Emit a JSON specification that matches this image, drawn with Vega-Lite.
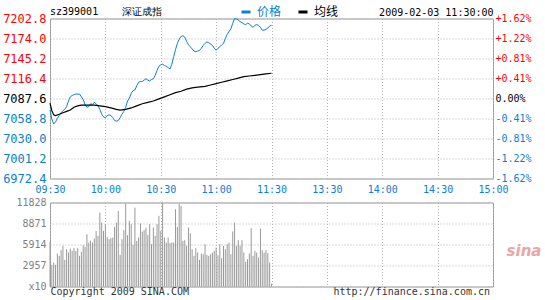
{
  "$schema": "https://vega.github.io/schema/vega-lite/v6.json",
  "padding": {"left": 2, "top": 5.5, "right": 0, "bottom": 0},
  "background": "white",
  "config": {
    "font": "DejaVu Sans Mono",
    "view": {"stroke": "#999999", "strokeWidth": 1},
    "axis": {"labelFont": "DejaVu Sans Mono", "labelFontSize": 10, "ticks": false, "domain": false, "gridColor": "#b4b4b4", "gridDash": [1, 2], "gridWidth": 1, "gridOpacity": 1, "title": null, "labelOverlap": false}
  },
  "datasets": {
    "price": [
      {"min":0,"series":"价格","price":7071},{"min":1,"series":"价格","price":7058},{"min":2,"series":"价格","price":7051},{"min":3,"series":"价格","price":7054},{"min":4,"series":"价格","price":7059},{"min":5,"series":"价格","price":7063},{"min":6,"series":"价格","price":7067},{"min":7,"series":"价格","price":7070},{"min":8,"series":"价格","price":7072},{"min":9,"series":"价格","price":7076},{"min":10,"series":"价格","price":7084},{"min":11,"series":"价格","price":7090},{"min":12,"series":"价格","price":7092},{"min":14,"series":"价格","price":7094},{"min":16,"series":"价格","price":7094},{"min":17,"series":"价格","price":7090},{"min":18,"series":"价格","price":7086},{"min":19,"series":"价格","price":7079},{"min":20,"series":"价格","price":7075},{"min":21,"series":"价格","price":7076},{"min":22,"series":"价格","price":7080},{"min":23,"series":"价格","price":7079},{"min":24,"series":"价格","price":7082},{"min":25,"series":"价格","price":7080},{"min":26,"series":"价格","price":7077},{"min":27,"series":"价格","price":7072},{"min":28,"series":"价格","price":7065},{"min":29,"series":"价格","price":7061},{"min":30,"series":"价格","price":7060},{"min":31,"series":"价格","price":7063},{"min":32,"series":"价格","price":7064},{"min":33,"series":"价格","price":7063},{"min":34,"series":"价格","price":7060},{"min":35,"series":"价格","price":7056},{"min":36,"series":"价格","price":7055},{"min":37,"series":"价格","price":7056},{"min":38,"series":"价格","price":7060},{"min":39,"series":"价格","price":7065},{"min":40,"series":"价格","price":7069},{"min":41,"series":"价格","price":7075},{"min":42,"series":"价格","price":7084},{"min":43,"series":"价格","price":7088},{"min":44,"series":"价格","price":7095},{"min":45,"series":"价格","price":7099},{"min":46,"series":"价格","price":7100},{"min":47,"series":"价格","price":7106},{"min":48,"series":"价格","price":7111},{"min":49,"series":"价格","price":7112},{"min":50,"series":"价格","price":7112},{"min":51,"series":"价格","price":7114},{"min":52,"series":"价格","price":7116},{"min":53,"series":"价格","price":7114},{"min":54,"series":"价格","price":7113},{"min":55,"series":"价格","price":7115},{"min":56,"series":"价格","price":7116},{"min":57,"series":"价格","price":7121},{"min":58,"series":"价格","price":7128},{"min":59,"series":"价格","price":7134},{"min":60,"series":"价格","price":7136},{"min":61,"series":"价格","price":7137},{"min":62,"series":"价格","price":7135},{"min":63,"series":"价格","price":7134},{"min":64,"series":"价格","price":7132},{"min":65,"series":"价格","price":7130},{"min":66,"series":"价格","price":7137},{"min":67,"series":"价格","price":7148},{"min":68,"series":"价格","price":7158},{"min":69,"series":"价格","price":7167},{"min":70,"series":"价格","price":7173},{"min":71,"series":"价格","price":7177},{"min":72,"series":"价格","price":7178},{"min":73,"series":"价格","price":7176},{"min":74,"series":"价格","price":7170},{"min":75,"series":"价格","price":7165},{"min":76,"series":"价格","price":7162},{"min":77,"series":"价格","price":7159},{"min":78,"series":"价格","price":7156},{"min":79,"series":"价格","price":7155},{"min":80,"series":"价格","price":7156},{"min":81,"series":"价格","price":7157},{"min":82,"series":"价格","price":7160},{"min":83,"series":"价格","price":7164},{"min":84,"series":"价格","price":7167},{"min":85,"series":"价格","price":7169},{"min":86,"series":"价格","price":7168},{"min":87,"series":"价格","price":7166},{"min":88,"series":"价格","price":7164},{"min":89,"series":"价格","price":7160},{"min":90,"series":"价格","price":7157},{"min":91,"series":"价格","price":7160},{"min":92,"series":"价格","price":7162},{"min":93,"series":"价格","price":7165},{"min":94,"series":"价格","price":7167},{"min":95,"series":"价格","price":7174},{"min":96,"series":"价格","price":7180},{"min":97,"series":"价格","price":7184},{"min":98,"series":"价格","price":7188},{"min":99,"series":"价格","price":7196},{"min":100,"series":"价格","price":7202.8},{"min":101,"series":"价格","price":7202},{"min":102,"series":"价格","price":7201},{"min":103,"series":"价格","price":7198},{"min":104,"series":"价格","price":7197},{"min":105,"series":"价格","price":7195},{"min":106,"series":"价格","price":7194},{"min":107,"series":"价格","price":7196},{"min":108,"series":"价格","price":7195},{"min":109,"series":"价格","price":7192},{"min":110,"series":"价格","price":7190},{"min":111,"series":"价格","price":7193},{"min":112,"series":"价格","price":7194},{"min":113,"series":"价格","price":7193},{"min":114,"series":"价格","price":7190},{"min":115,"series":"价格","price":7186},{"min":116,"series":"价格","price":7186},{"min":117,"series":"价格","price":7187},{"min":118,"series":"价格","price":7189},{"min":119,"series":"价格","price":7192},{"min":120,"series":"价格","price":7193},
      {"min":0,"series":"均线","price":7081},{"min":1,"series":"均线","price":7070},{"min":2,"series":"均线","price":7064},{"min":3,"series":"均线","price":7063},{"min":5,"series":"均线","price":7065},{"min":7,"series":"均线","price":7067},{"min":9,"series":"均线","price":7069},{"min":11,"series":"均线","price":7071},{"min":13,"series":"均线","price":7075},{"min":15,"series":"均线","price":7077},{"min":17,"series":"均线","price":7078},{"min":20,"series":"均线","price":7078},{"min":24,"series":"均线","price":7078},{"min":27,"series":"均线","price":7077},{"min":30,"series":"均线","price":7076},{"min":33,"series":"均线","price":7074},{"min":36,"series":"均线","price":7072},{"min":38,"series":"均线","price":7071},{"min":41,"series":"均线","price":7072},{"min":44,"series":"均线","price":7074},{"min":47,"series":"均线","price":7077},{"min":50,"series":"均线","price":7080},{"min":53,"series":"均线","price":7082},{"min":56,"series":"均线","price":7084},{"min":59,"series":"均线","price":7087},{"min":62,"series":"均线","price":7090},{"min":65,"series":"均线","price":7093},{"min":68,"series":"均线","price":7096},{"min":71,"series":"均线","price":7098},{"min":74,"series":"均线","price":7101},{"min":77,"series":"均线","price":7103},{"min":80,"series":"均线","price":7104},{"min":84,"series":"均线","price":7105},{"min":87,"series":"均线","price":7107},{"min":90,"series":"均线","price":7109},{"min":93,"series":"均线","price":7111},{"min":96,"series":"均线","price":7113},{"min":99,"series":"均线","price":7115},{"min":102,"series":"均线","price":7117},{"min":105,"series":"均线","price":7119},{"min":108,"series":"均线","price":7120},{"min":111,"series":"均线","price":7121},{"min":114,"series":"均线","price":7122},{"min":117,"series":"均线","price":7123},{"min":120,"series":"均线","price":7124}
    ],
    "vol": [
      {"min":0,"vol":6285},{"min":1,"vol":3049},{"min":2,"vol":3377},{"min":3,"vol":3049},{"min":4,"vol":4643},{"min":5,"vol":4315},{"min":6,"vol":5112},{"min":7,"vol":5722},{"min":8,"vol":3752},{"min":9,"vol":5253},{"min":10,"vol":4784},{"min":11,"vol":5347},{"min":12,"vol":5018},{"min":13,"vol":5394},{"min":14,"vol":5018},{"min":15,"vol":5394},{"min":16,"vol":4315},{"min":17,"vol":4878},{"min":18,"vol":5816},{"min":19,"vol":5581},{"min":20,"vol":7363},{"min":21,"vol":6191},{"min":22,"vol":6425},{"min":23,"vol":6191},{"min":24,"vol":6754},{"min":25,"vol":7832},{"min":26,"vol":7129},{"min":27,"vol":10412},{"min":28,"vol":9005},{"min":29,"vol":7832},{"min":30,"vol":8770},{"min":31,"vol":6988},{"min":32,"vol":6660},{"min":33,"vol":6801},{"min":34,"vol":6894},{"min":35,"vol":8395},{"min":36,"vol":9005},{"min":37,"vol":10646},{"min":38,"vol":4456},{"min":39,"vol":6660},{"min":40,"vol":7926},{"min":41,"vol":11678},{"min":42,"vol":7223},{"min":43,"vol":9239},{"min":44,"vol":8770},{"min":45,"vol":5863},{"min":46,"vol":11115},{"min":47,"vol":6425},{"min":48,"vol":6894},{"min":49,"vol":8864},{"min":50,"vol":7739},{"min":51,"vol":7926},{"min":52,"vol":8301},{"min":53,"vol":7270},{"min":54,"vol":8770},{"min":55,"vol":5956},{"min":56,"vol":8301},{"min":57,"vol":7129},{"min":58,"vol":8770},{"min":59,"vol":9943},{"min":60,"vol":7832},{"min":61,"vol":11800},{"min":62,"vol":6894},{"min":63,"vol":6191},{"min":64,"vol":6894},{"min":65,"vol":6097},{"min":66,"vol":6191},{"min":67,"vol":6191},{"min":68,"vol":10881},{"min":69,"vol":8395},{"min":70,"vol":11678},{"min":71,"vol":11350},{"min":72,"vol":6425},{"min":73,"vol":6519},{"min":74,"vol":5722},{"min":75,"vol":8301},{"min":76,"vol":7504},{"min":77,"vol":5253},{"min":78,"vol":4315},{"min":79,"vol":5394},{"min":80,"vol":4784},{"min":81,"vol":3752},{"min":82,"vol":4643},{"min":83,"vol":4549},{"min":84,"vol":5956},{"min":85,"vol":4456},{"min":86,"vol":4315},{"min":87,"vol":4549},{"min":88,"vol":4784},{"min":89,"vol":5018},{"min":90,"vol":5487},{"min":91,"vol":4409},{"min":92,"vol":5956},{"min":93,"vol":3987},{"min":94,"vol":5722},{"min":95,"vol":5253},{"min":96,"vol":5956},{"min":97,"vol":6191},{"min":98,"vol":4549},{"min":99,"vol":7739},{"min":100,"vol":9005},{"min":101,"vol":5722},{"min":102,"vol":6519},{"min":103,"vol":5722},{"min":104,"vol":6519},{"min":105,"vol":4784},{"min":106,"vol":3471},{"min":107,"vol":3846},{"min":108,"vol":4643},{"min":109,"vol":8208},{"min":110,"vol":4315},{"min":111,"vol":5018},{"min":112,"vol":4784},{"min":113,"vol":4080},{"min":114,"vol":8161},{"min":115,"vol":5112},{"min":116,"vol":4784},{"min":117,"vol":5112},{"min":118,"vol":4690},{"min":119,"vol":3377},{"min":120,"vol":400}
    ],
    "logo": [{"label": "sina"}]
  },
  "bounds": "flush",
  "spacing": 24,
  "vconcat": [
    {
      "width": 443,
      "height": 160,
      "title": {"text": "sz399001\u00a0\u00a0\u00a0\u00a0深证成指", "anchor": "start", "frame": "group", "font": "DejaVu Sans Mono", "fontSize": 10, "fontWeight": "normal", "color": "#000000", "baseline": "alphabetic", "offset": -17.5},
      "data": {"name": "price"},
      "layer": [
        {
          "transform": [{"filter": "datum.series == '价格'"}],
          "mark": {"type": "line", "strokeWidth": 1},
          "encoding": {
            "x": {"field": "min", "type": "quantitative", "scale": {"domain": [0, 240], "nice": false, "zero": false},
              "axis": {"orient": "bottom", "values": [0, 30, 60, 90, 120, 150, 180, 210, 240], "labelExpr": "['09:30','10:00','10:30','11:00','11:30','13:30','14:00','14:30','15:00'][round(datum.value/30)]", "labelColor": "#0a80d0", "labelPadding": 6, "grid": true, "labelFlush": false}},
            "y": {"field": "price", "type": "quantitative", "scale": {"domain": [6972.4, 7202.8], "nice": false, "zero": false},
              "axis": {"orient": "left", "values": [6972.4, 7001.2, 7030, 7058.8, 7087.6, 7116.4, 7145.2, 7174, 7202.8], "format": ".1f", "labelFontSize": 12, "labelPadding": 4, "grid": true,
                "labelColor": {"condition": [{"test": "datum.value > 7087.7", "value": "#ff0000"}, {"test": "datum.value > 7087.5", "value": "#000000"}], "value": "#0a80d0"}}},
            "color": {"field": "series", "type": "nominal", "scale": {"domain": ["价格", "均线"], "range": ["#0a80d0", "#000000"]},
              "legend": {"orient": "none", "direction": "horizontal", "legendX": 190, "legendY": -12.5, "title": null, "symbolType": "stroke", "symbolStrokeWidth": 3, "symbolSize": 81, "labelFont": "Noto Sans CJK SC", "labelFontSize": 12, "labelOffset": 5, "columnPadding": 10,
                "encode": {"labels": {"update": {"fill": {"scale": "color", "field": "value"}}}}}}
          }
        },
        {
          "transform": [{"filter": "datum.series == '均线'"}],
          "mark": {"type": "line", "strokeWidth": 1.2},
          "encoding": {
            "x": {"field": "min", "type": "quantitative", "scale": {"domain": [0, 240], "nice": false, "zero": false},
              "axis": {"orient": "top", "labels": false, "grid": false, "title": "2009-02-03 11:30:00", "titleAnchor": "end", "titleAlign": "right", "titleFont": "DejaVu Sans Mono", "titleFontSize": 10, "titleFontWeight": "normal", "titleColor": "#000000", "titlePadding": 1}},
            "y": {"field": "price", "type": "quantitative", "scale": {"domain": [6972.4, 7202.8], "nice": false, "zero": false},
              "axis": {"orient": "right", "values": [6972.4, 7001.2, 7030, 7058.8, 7087.6, 7116.4, 7145.2, 7174, 7202.8], "labelExpr": "['-1.62%','-1.22%','-0.81%','-0.41%','0.00%','+0.41%','+0.81%','+1.22%','+1.62%'][round((datum.value-6972.4)/28.8)]", "labelFontSize": 10, "labelPadding": 2, "grid": false,
                "labelColor": {"condition": [{"test": "datum.value > 7087.7", "value": "#ff0000"}, {"test": "datum.value > 7087.5", "value": "#000000"}], "value": "#0a80d0"}}},
            "color": {"field": "series", "type": "nominal"}
          }
        }
      ],
      "resolve": {"scale": {"y": "independent", "x": "independent"}}
    },
    {
      "width": 443,
      "height": 84,
      "layer": [
        {
          "data": {"name": "vol"},
          "mark": {"type": "rule", "color": "#999999", "strokeWidth": 1},
          "encoding": {
            "x": {"field": "min", "type": "quantitative", "scale": {"domain": [0, 240], "nice": false, "zero": false},
              "axis": {"values": [0, 30, 60, 90, 120, 150, 180, 210, 240], "labels": false, "grid": true, "title": "Copyright 2009 SINA.COM\u00a0\u00a0\u00a0\u00a0\u00a0\u00a0\u00a0\u00a0\u00a0\u00a0\u00a0\u00a0\u00a0\u00a0\u00a0\u00a0\u00a0\u00a0\u00a0\u00a0\u00a0\u00a0\u00a0\u00a0http://finance.sina.com.cn", "titleAnchor": "start", "titleAlign": "left", "titleFont": "DejaVu Sans Mono", "titleFontSize": 10, "titleFontWeight": "normal", "titleColor": "#333333", "titlePadding": 0}},
            "y": {"field": "vol", "type": "quantitative", "scale": {"domain": [0, 11828], "nice": false, "zero": true},
              "axis": {"values": [0, 2957, 5914, 8871, 11828], "labelExpr": "datum.value == 0 ? 'x10' : datum.label", "format": "d", "labelColor": "#808080", "labelPadding": 4, "grid": true, "labelOverlap": false}},
            "y2": {"datum": 0}
          }
        },
        {
          "data": {"name": "logo"},
          "mark": {"type": "text", "font": "DejaVu Sans", "fontStyle": "italic", "fontWeight": "bold", "fontSize": 15, "color": "#eaa6a6", "align": "center", "baseline": "middle"},
          "encoding": {
            "x": {"datum": 256.8, "type": "quantitative", "scale": {"domain": [0, 240], "nice": false, "zero": false},
              "axis": {"values": [0, 30, 60, 90, 120, 150, 180, 210, 240], "labels": false, "grid": true, "title": "Copyright 2009 SINA.COM\u00a0\u00a0\u00a0\u00a0\u00a0\u00a0\u00a0\u00a0\u00a0\u00a0\u00a0\u00a0\u00a0\u00a0\u00a0\u00a0\u00a0\u00a0\u00a0\u00a0\u00a0\u00a0\u00a0\u00a0http://finance.sina.com.cn", "titleAnchor": "start", "titleAlign": "left", "titleFont": "DejaVu Sans Mono", "titleFontSize": 10, "titleFontWeight": "normal", "titleColor": "#333333", "titlePadding": 0}},
            "y": {"datum": 5000, "type": "quantitative", "scale": {"domain": [0, 11828], "nice": false, "zero": true},
              "axis": {"values": [0, 2957, 5914, 8871, 11828], "labelExpr": "datum.value == 0 ? 'x10' : datum.label", "format": "d", "labelColor": "#808080", "labelPadding": 4, "grid": true, "labelOverlap": false}},
            "text": {"field": "label"}
          }
        }
      ]
    }
  ]
}
